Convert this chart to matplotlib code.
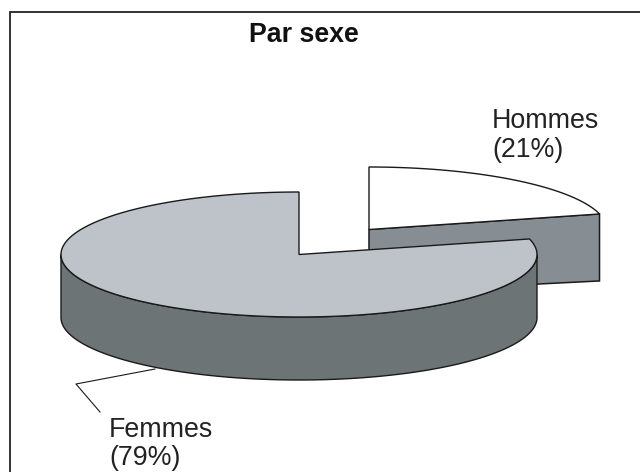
import matplotlib
matplotlib.use("Agg")
import matplotlib.pyplot as plt
import numpy as np
from matplotlib.patches import Polygon

plt.rcParams['font.family'] = ['Liberation Sans', 'DejaVu Sans']

title = "Par sexe"
labels = ["Hommes\n(21%)", "Femmes\n(79%)"]
shares = [21, 79]

RX, RY, DEPTH = 238, 62.5, 63
C_HOM = (369, 229.5)
C_FEM = (299, 254.5)
EDGE = "#1a1a1a"
FS = 19.3


def arc(center, t1, t2, dy=0):
    t = np.radians(np.linspace(t1, t2, 200))
    return np.column_stack([center[0] + RX * np.cos(t), center[1] + dy - RY * np.sin(t)])


fig = plt.figure(figsize=(6.4, 4.72), dpi=100)
ax = fig.add_axes([0, 0, 1, 1])
ax.set_xlim(0, 640)
ax.set_ylim(472, 0)
ax.axis("off")

# only the top and left sides of the frame are in the picture
ax.plot([640, 10, 10], [12, 12, 472], color="#222222", lw=1.3, solid_joinstyle="miter")

# the slices run clockwise from 12 o'clock
split = 90 - 360 * shares[0] / sum(shares)

# Hommes slice
end = arc(C_HOM, split, split)[0]
cut = [C_HOM, end, (end[0], end[1] + DEPTH + 4), (C_HOM[0], C_HOM[1] + DEPTH)]
ax.add_patch(Polygon(cut, fc="#878e93", ec=EDGE, lw=1.1))
top = np.vstack([[C_HOM], arc(C_HOM, 90, split)])
ax.add_patch(Polygon(top, fc="white", ec=EDGE, lw=1.0))

# Femmes slice, outer wall then top
low = arc(C_FEM, 180, 360)
wall = np.vstack([low, arc(C_FEM, 360, 180, dy=DEPTH)])
ax.add_patch(Polygon(wall, fc="#6c7476", ec=EDGE, lw=1.0))
top = np.vstack([[C_FEM], arc(C_FEM, split, 90 - 360)])
ax.add_patch(Polygon(top, fc="#bec3c9", ec=EDGE, lw=1.0))

# leader of Femmes
ax.plot([155, 76, 100], [369, 384, 412], color=EDGE, lw=0.8)

ax.text(303.5, 42, title, fontsize=FS, fontweight="bold", ha="center", va="baseline", color="#111111")
ax.text(492, 157, labels[0], fontsize=FS, ha="left", va="baseline", linespacing=1.13, color="#222222")
ax.text(109, 465, labels[1], fontsize=FS, ha="left", va="baseline", linespacing=1.1, color="#222222")

fig.savefig("out.png", dpi=100)
